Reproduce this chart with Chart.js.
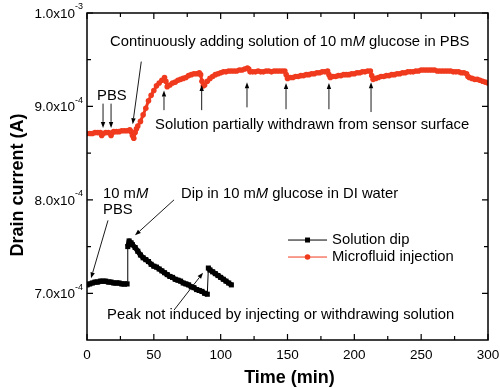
<!DOCTYPE html>
<html>
<head>
<meta charset="utf-8">
<script src="https://cdn.jsdelivr.net/npm/chart.js@4.4.1/dist/chart.umd.min.js"></script>
<style>
  html, body { margin: 0; padding: 0; background: #fff; }
  #chart { display: block; }
</style>
</head>
<body>
<canvas id="chart" width="500" height="388"></canvas>
<script>
/* Drain current vs time, values in units of 1e-4 A */

const dipPoints = [
    [0, 7.09], [2, 7.10], [4, 7.11], [6, 7.12], [8, 7.12], [10, 7.13], [12, 7.13], [14, 7.13],
    [16, 7.12], [18, 7.12], [20, 7.11], [22, 7.11], [24, 7.11], [26, 7.10], [28, 7.10], [30, 7.10],
    [30.5, 7.50], [31.5, 7.56], [33, 7.54], [34, 7.52], [36, 7.49], [38, 7.45], [40, 7.41], [42, 7.38],
    [44, 7.36], [46, 7.34], [48, 7.31], [50, 7.29], [52, 7.28], [54, 7.26], [56, 7.24], [58, 7.22],
    [60, 7.20], [62, 7.18], [64, 7.17], [66, 7.15], [68, 7.14], [70, 7.13], [72, 7.11], [74, 7.10],
    [76, 7.09], [78, 7.07], [80, 7.06], [82, 7.04], [84, 7.03], [86, 7.02], [88, 7.00], [90, 6.99],
    [90.8, 7.27], [92, 7.25], [94, 7.23], [96, 7.21], [98, 7.19], [100, 7.17], [102, 7.15], [104, 7.13],
    [106, 7.11], [108, 7.09]
];

const injectionPoints = [
    [0, 8.71], [2, 8.71], [4, 8.71], [6, 8.72], [8, 8.72], [10, 8.72], [11, 8.69], [12, 8.71],
    [14, 8.72], [16, 8.72], [18, 8.69], [19, 8.72], [20, 8.73], [22, 8.73], [24, 8.73], [26, 8.74],
    [28, 8.74], [30, 8.74], [32, 8.75], [33, 8.73], [34, 8.69], [35, 8.66], [36, 8.72], [37, 8.76],
    [38, 8.79], [40, 8.84], [42, 8.91], [44, 8.98], [46, 9.06], [48, 9.12], [50, 9.17], [52, 9.22],
    [54, 9.25], [56, 9.28], [58, 9.31], [59, 9.27], [60, 9.21], [62, 9.23], [64, 9.25], [66, 9.26],
    [68, 9.28], [70, 9.29], [72, 9.30], [74, 9.31], [76, 9.33], [78, 9.34], [80, 9.35], [82, 9.35],
    [84, 9.36], [85, 9.34], [86, 9.27], [87, 9.22], [88, 9.23], [90, 9.27], [92, 9.30], [94, 9.32],
    [96, 9.34], [98, 9.35], [100, 9.36], [102, 9.37], [104, 9.37], [106, 9.38], [108, 9.38], [110, 9.38],
    [112, 9.38], [114, 9.39], [116, 9.39], [118, 9.40], [120, 9.41], [121, 9.40], [122, 9.37], [124, 9.37],
    [126, 9.37], [128, 9.38], [130, 9.37], [132, 9.37], [134, 9.38], [136, 9.38], [138, 9.37], [140, 9.38],
    [142, 9.38], [144, 9.38], [146, 9.38], [148, 9.38], [149, 9.34], [150, 9.30], [152, 9.31], [154, 9.31],
    [156, 9.32], [158, 9.32], [160, 9.33], [162, 9.33], [164, 9.34], [166, 9.34], [168, 9.35], [170, 9.35],
    [172, 9.36], [174, 9.36], [176, 9.37], [178, 9.37], [180, 9.38], [181, 9.34], [182, 9.31], [184, 9.32],
    [186, 9.32], [188, 9.33], [190, 9.33], [192, 9.34], [194, 9.34], [196, 9.34], [198, 9.35], [200, 9.35],
    [202, 9.36], [204, 9.36], [206, 9.37], [208, 9.37], [210, 9.38], [212, 9.38], [213, 9.33], [214, 9.29],
    [216, 9.30], [218, 9.31], [220, 9.32], [222, 9.32], [224, 9.33], [226, 9.33], [228, 9.34], [230, 9.34],
    [232, 9.35], [234, 9.35], [236, 9.36], [238, 9.36], [240, 9.37], [242, 9.37], [244, 9.37], [246, 9.38],
    [248, 9.38], [250, 9.39], [252, 9.39], [254, 9.39], [256, 9.39], [258, 9.39], [260, 9.39], [262, 9.38],
    [264, 9.38], [266, 9.38], [268, 9.38], [270, 9.38], [272, 9.38], [274, 9.37], [276, 9.37], [278, 9.37],
    [280, 9.36], [282, 9.36], [284, 9.35], [285, 9.32], [286, 9.31], [288, 9.30], [290, 9.29], [292, 9.29],
    [294, 9.28], [296, 9.27], [298, 9.26], [300, 9.25]
];

const xMajorTicks = [0, 50, 100, 150, 200, 250, 300];
const xMinorTicks = [25, 75, 125, 175, 225, 275];
const yMajorTicks = [7, 8, 9, 10];
const yMinorTicks = [7.5, 8.5, 9.5];
const yTickLabels = ["7.0x10^-4", "8.0x10^-4", "9.0x10^-4", "1.0x10^-3"];

/* Annotations, placed in data coordinates (min, 1e-4 A) */

const notes = [
    { t: 17.2, v: 9.69, parts: [["Continuously adding solution of 10 m"], ["M", true], [" glucose in PBS"]] },
    { t: 7.5, v: 9.11, parts: [["PBS"]] },
    { t: 50.9, v: 8.80, parts: [["Solution partially withdrawn from sensor surface"]] },
    { t: 12, v: 8.06, parts: [["10 m"], ["M", true]] },
    { t: 12, v: 7.89, parts: [["PBS"]] },
    { t: 70.3, v: 8.06, parts: [["Dip in 10 m"], ["M", true], [" glucose in DI water"]] },
    { t: 15, v: 6.77, parts: [["Peak not induced by injecting or withdrawing solution"]] }
];

const arrows = [
    [12, 9.03, 12, 8.77],
    [18, 9.03, 18, 8.77],
    [40.6, 9.48, 34.2, 8.81],
    [57.6, 8.96, 57.6, 9.17],
    [85.8, 8.96, 85.8, 9.23],
    [119.7, 8.99, 119.7, 9.26],
    [148.9, 8.97, 148.9, 9.25],
    [181, 8.97, 181, 9.25],
    [212.5, 8.94, 212.5, 9.26],
    [15.7, 7.78, 3.0, 7.16],
    [65.1, 8.0, 35.9, 7.62],
    [65.1, 6.82, 86.8, 7.22]
];

const legendAt = { t: 150.4, v: 7.57 };

const FONT = '"Liberation Sans", Arial, Helvetica, sans-serif';
const RED = "#f03a1e";
const NOTE_SIZE = 14.8;

function drawParts(ctx, x, y, parts, size) {
    ctx.textBaseline = "middle";
    ctx.textAlign = "left";
    parts.forEach(([text, italic]) => {
        ctx.font = (italic ? "italic " : "") + size + "px " + FONT;
        ctx.fillText(text, x, y);
        x += ctx.measureText(text).width;
    });
}

function drawArrow(ctx, x1, y1, x2, y2) {
    const ang = Math.atan2(y2 - y1, x2 - x1);
    const head = 6, half = 2.2;
    const cos = Math.cos(ang), sin = Math.sin(ang);
    ctx.beginPath();
    ctx.moveTo(x1, y1);
    ctx.lineTo(x2 - head * cos, y2 - head * sin);
    ctx.stroke();
    ctx.beginPath();
    ctx.moveTo(x2, y2);
    ctx.lineTo(x2 - head * cos + half * sin, y2 - head * sin - half * cos);
    ctx.lineTo(x2 - head * cos - half * sin, y2 - head * sin + half * cos);
    ctx.closePath();
    ctx.fill();
}

// dense data gives a thick band; the sudden jumps stay thin lines
const bandWidth = wide => ctx =>
    Math.abs(ctx.p1.parsed.y - ctx.p0.parsed.y) > 0.15 ? 1 : wide;

const decorations = {
    id: "decorations",
    afterDatasetsDraw(chart) {
        const { ctx, chartArea: a, scales: { x, y } } = chart;
        ctx.save();
        ctx.fillStyle = "#000";
        ctx.strokeStyle = "#000";

        /* frame and inward ticks on all four sides */
        ctx.lineWidth = 1.5;
        ctx.strokeRect(a.left, a.top, a.right - a.left, a.bottom - a.top);
        ctx.lineWidth = 1.2;
        const tick = (values, len, horizontal) => {
            values.forEach(val => {
                ctx.beginPath();
                if (horizontal) {
                    const px = x.getPixelForValue(val);
                    ctx.moveTo(px, a.bottom); ctx.lineTo(px, a.bottom - len);
                    ctx.moveTo(px, a.top); ctx.lineTo(px, a.top + len);
                } else {
                    const py = y.getPixelForValue(val);
                    ctx.moveTo(a.left, py); ctx.lineTo(a.left + len, py);
                    ctx.moveTo(a.right, py); ctx.lineTo(a.right - len, py);
                }
                ctx.stroke();
            });
        };
        tick(xMajorTicks, 6, true);
        tick(xMinorTicks, 4, true);
        tick(yMajorTicks, 6, false);
        tick(yMinorTicks, 4, false);

        /* tick labels */
        ctx.font = "13.5px " + FONT;
        ctx.textAlign = "center";
        ctx.textBaseline = "middle";
        xMajorTicks.forEach(val => {
            ctx.fillText(String(val), x.getPixelForValue(val), a.bottom + 15);
        });
        yMajorTicks.forEach((val, i) => {
            const [base, sup] = yTickLabels[i].split("^");
            const py = y.getPixelForValue(val);
            ctx.font = "9px " + FONT;
            const supW = ctx.measureText(sup).width;
            ctx.font = "13.5px " + FONT;
            const baseW = ctx.measureText(base).width;
            const right = a.left - 4;
            ctx.textAlign = "left";
            ctx.fillText(base, right - supW - baseW, py + 1);
            ctx.font = "9px " + FONT;
            ctx.fillText(sup, right - supW, py - 6);
        });

        /* axis titles */
        ctx.font = "bold 18px " + FONT;
        ctx.textAlign = "center";
        ctx.fillText("Time (min)", (a.left + a.right) / 2 + 2, 378);
        ctx.save();
        ctx.translate(18, 185);
        ctx.rotate(-Math.PI / 2);
        ctx.fillText("Drain current (A)", 0, 0);
        ctx.restore();

        /* annotation texts and arrows */
        notes.forEach(n => {
            drawParts(ctx, x.getPixelForValue(n.t), y.getPixelForValue(n.v), n.parts, NOTE_SIZE);
        });
        ctx.lineWidth = 0.9;
        arrows.forEach(([t1, v1, t2, v2]) => {
            drawArrow(ctx,
                x.getPixelForValue(t1), y.getPixelForValue(v1),
                x.getPixelForValue(t2), y.getPixelForValue(v2));
        });

        /* legend */
        const lx = x.getPixelForValue(legendAt.t);
        let ly = y.getPixelForValue(legendAt.v);
        chart.data.datasets.forEach(ds => {
            ctx.strokeStyle = ds.borderColor;
            ctx.fillStyle = ds.backgroundColor;
            ctx.lineWidth = 1;
            ctx.beginPath();
            ctx.moveTo(lx, ly); ctx.lineTo(lx + 39, ly);
            ctx.stroke();
            ctx.beginPath();
            if (ds.pointStyle === "rect") {
                ctx.rect(lx + 19.5 - 2.5, ly - 2.5, 5, 5);
            } else {
                ctx.arc(lx + 19.5, ly, 2.8, 0, Math.PI * 2);
            }
            ctx.fill();
            ctx.fillStyle = "#000";
            drawParts(ctx, lx + 44, ly, [[ds.label]], NOTE_SIZE);
            ly += 17;
        });

        ctx.restore();
    }
};

const toXY = points => points.map(([t, v]) => ({ x: t, y: v }));

new Chart(document.querySelector("#chart"), {
    type: "line",
    data: {
        datasets: [
            {
                label: "Solution dip",
                data: toXY(dipPoints),
                borderColor: "#000",
                backgroundColor: "#000",
                borderWidth: 1,
                segment: { borderWidth: bandWidth(5) },
                borderJoinStyle: "round",
                pointStyle: "rect",
                pointRadius: 3.6,
                pointBorderWidth: 0,
                tension: 0
            },
            {
                label: "Microfluid injection",
                data: toXY(injectionPoints),
                borderColor: RED,
                backgroundColor: RED,
                borderWidth: 1,
                segment: { borderWidth: bandWidth(3) },
                borderJoinStyle: "round",
                pointStyle: "circle",
                pointRadius: 2.8,
                pointBorderWidth: 0,
                tension: 0
            }
        ]
    },
    options: {
        responsive: false,
        animation: false,
        devicePixelRatio: 1,
        layout: {
            padding: { left: 87, right: 12, top: 13, bottom: 48 }
        },
        plugins: {
            legend: { display: false },
            tooltip: { enabled: false }
        },
        scales: {
            x: { type: "linear", min: 0, max: 300, display: false },
            y: { type: "linear", min: 6.5, max: 10, display: false }
        }
    },
    plugins: [decorations]
});
</script>
</body>
</html>
